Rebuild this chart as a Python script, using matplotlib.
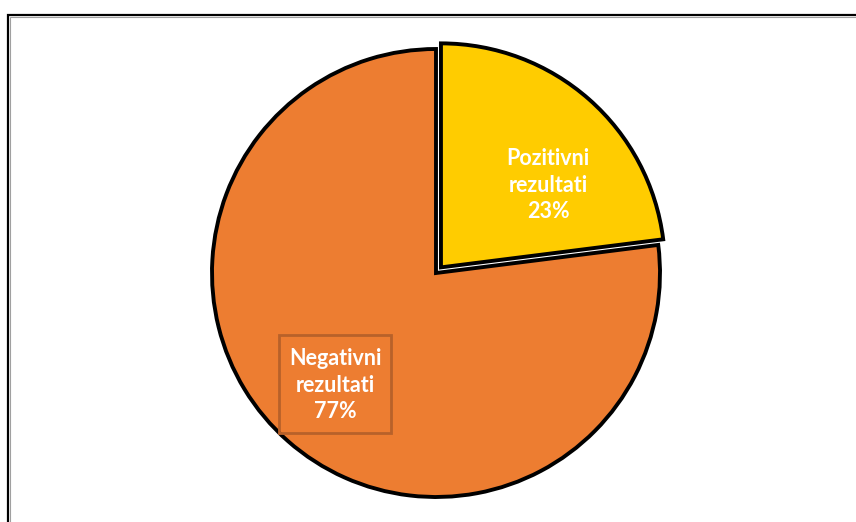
import matplotlib
matplotlib.use("Agg")
import matplotlib.pyplot as plt
from matplotlib.patches import Rectangle

categories = ["Pozitivni\nrezultati", "Negativni\nrezultati"]
values = [23, 77]
colors = ["#FFCC00", "#ED7D31"]

W, H = 856, 522
fig = plt.figure(figsize=(W / 100, H / 100), dpi=100)
ax = fig.add_axes([0, 0, 1, 1])
ax.set_xlim(0, W)
ax.set_ylim(0, H)
ax.set_aspect("equal")
ax.axis("off")

# frame
ax.add_patch(Rectangle((8.5, -20), W + 40, H - 14 + 20 - 0.5, fill=False,
                       edgecolor="black", linewidth=1.6))
ax.add_patch(Rectangle((10.5, -20), W + 40, H - 16 + 20 - 0.5, fill=False,
                       edgecolor="#A0A0A0", linewidth=0.8))

cx, cy, r = 436, H - 273, 224
wedges, _ = ax.pie(values, colors=colors, startangle=90, counterclock=False,
                   center=(cx, cy), radius=r, explode=[7.5, 0],
                   wedgeprops=dict(edgecolor="black", linewidth=2.8))
ax.set_xlim(0, W)
ax.set_ylim(0, H)

font = dict(family=["Lato", "DejaVu Sans"], fontsize=15.5, fontweight="bold",
            color="white", ha="center", va="center", linespacing=1.35)

labels = [f"{c}\n{v}%" for c, v in zip(categories, values)]
ax.text(548, H - 185, labels[0], **font)
ax.text(335, H - 385, labels[1], **font)
ax.add_patch(Rectangle((279, H - 433), 112, 98, fill=False,
                       edgecolor="#B8612A", linewidth=2))

fig.savefig("out.png", dpi=100)
